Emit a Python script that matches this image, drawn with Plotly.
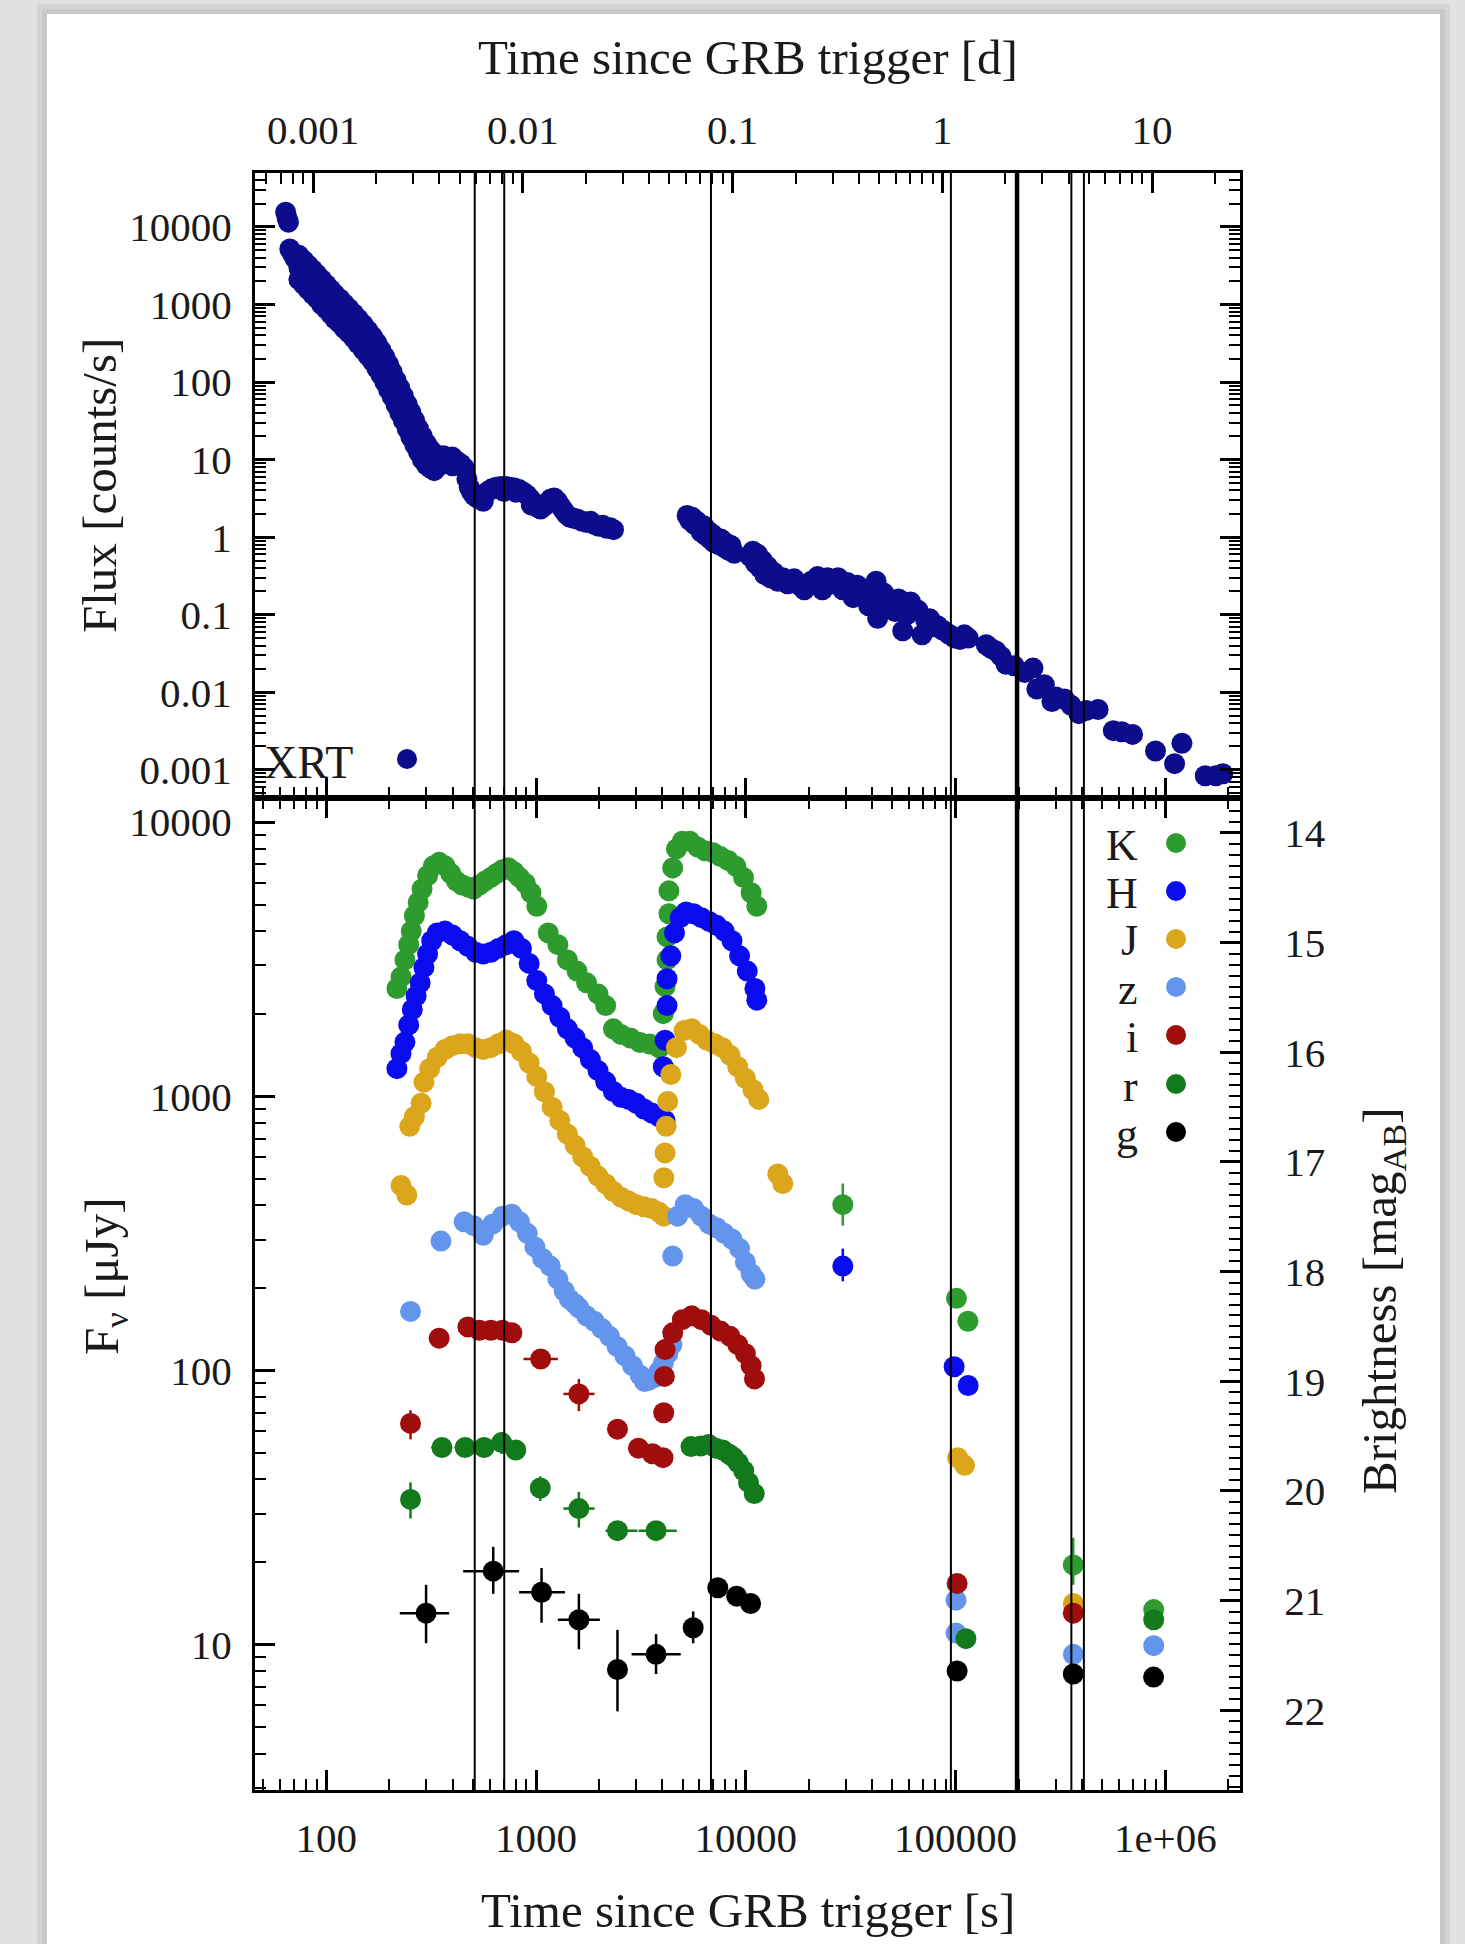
import math
import plotly.graph_objects as go

# ---------------- Swift/XRT light curve (counts/s) ----------------
xrt_time = [64, 65, 66, 67, 69, 71,
            74, 74, 74, 78, 78, 78, 82, 82, 82, 86, 86, 86, 90, 90, 90,
            95, 95, 95, 100, 100, 100, 105, 105, 105, 110, 110, 110,
            116, 116, 116, 122, 122, 122, 128, 128, 128, 135, 135, 135,
            142, 142, 142, 150, 150, 150, 158, 158, 158, 166, 166, 166,
            174, 174, 174, 182, 182, 182, 190, 190, 190, 198, 198, 198,
            206, 206, 206, 215, 215, 215, 224, 224, 224, 233, 233, 233,
            243, 243, 243, 253, 253, 253, 264, 264, 264, 275, 275, 275,
            287, 287, 287, 300, 300, 300, 313, 313, 313, 327, 327, 327,
            345, 350, 362, 380, 398, 400, 418, 438, 455,
            468, 480, 493, 508, 525, 545, 560, 565, 590, 615, 645, 680,
            700, 715, 750, 790, 800, 830, 870, 905, 940, 950, 975, 1010,
            1050, 1090, 1130, 1175, 1220, 1265, 1310, 1355, 1400, 1450,
            1510, 1580, 1660, 1740, 1820, 1900, 1990, 2080, 2170, 2260, 2340,
            5250, 5400, 5550, 5700, 5850, 6000, 6150, 6300, 6450, 6600,
            6750, 6900, 7050, 7200, 7400, 7600, 7800, 8000, 8250, 8500, 8800,
            10500, 10800, 11100, 11400, 11700, 12000, 12300, 12700, 13100,
            13600, 14200, 15000, 15800, 17000, 18000, 19000, 20500, 22000,
            23200, 24500, 26000, 27500, 29000, 30500, 32500, 34000, 35500,
            37000, 38500, 40000, 41800, 42500, 44000, 45500, 48000, 51500,
            53500, 56000, 58500, 61000, 63500, 66300, 69200, 72000, 75200,
            78500, 82000, 87000, 93000, 99000, 105000, 110000, 115000,
            140000, 147000, 156000, 165000, 174000, 190000, 214000, 234000,
            244000, 265000, 288000, 301000, 330000, 355000, 387000, 420000,
            478000, 565000, 620000, 698000, 898000, 1107000, 1200000,
            1550000, 1740000, 1880000]
xrt_flux = [15500, 13000, 11500, 5200, 4500, 3900,
            4300, 3000, 2100, 3700, 2600, 1800, 3200, 2250, 1550, 2800, 1950, 1350, 2450, 1700, 1200,
            2100, 1450, 1000, 1800, 1250, 870, 1550, 1080, 750, 1350, 940, 650,
            1180, 820, 570, 1020, 710, 490, 890, 620, 430, 760, 530, 370,
            650, 450, 310, 550, 380, 260, 460, 320, 220, 385, 265, 185,
            320, 220, 150, 260, 180, 125, 210, 145, 100, 170, 118, 80,
            135, 94, 65, 106, 74, 51, 84, 58, 40, 66, 46, 32,
            52, 36, 25, 41, 28, 19.5, 32, 22, 15.5, 25, 17.5, 12.5,
            20, 14, 10, 16, 11.5, 8.5, 13.5, 10, 7.8, 12, 9, 7.2,
            10.8, 8.5, 11.2, 10.2, 10.8, 8.3, 9.6, 8.8, 7.8,
            5.6, 4.4, 3.8, 3.4, 3.2, 3.3, 2.9, 3.6, 3.9, 4.2, 4.4, 4.5,
            3.9, 4.5, 4.4, 4.3, 3.8, 4.1, 3.8, 3.5, 3.1, 2.6, 2.7, 2.45,
            2.3, 2.5, 2.8, 3.1, 3.2, 2.9, 2.5, 2.2, 1.95, 1.8,
            1.75, 1.7, 1.6, 1.55, 1.6, 1.45, 1.38, 1.42, 1.3, 1.32, 1.25,
            1.9, 1.65, 1.8, 1.45, 1.6, 1.3, 1.15, 1.4, 1.05, 1.2,
            0.95, 1.1, 0.85, 1.0, 0.8, 0.95, 0.75, 0.85, 0.68, 0.78, 0.62,
            0.56, 0.66, 0.46, 0.6, 0.4, 0.5, 0.33, 0.42, 0.3,
            0.35, 0.27, 0.3, 0.25, 0.29, 0.24, 0.21, 0.27, 0.31,
            0.21, 0.3, 0.25, 0.3, 0.21, 0.26, 0.166, 0.24, 0.22,
            0.19, 0.13, 0.2, 0.27, 0.09, 0.16, 0.19, 0.13, 0.11,
            0.16, 0.062, 0.1, 0.146, 0.12, 0.114, 0.055, 0.085, 0.089,
            0.07, 0.072, 0.063, 0.056, 0.05, 0.048, 0.055, 0.05,
            0.041, 0.037, 0.034, 0.029, 0.023, 0.022, 0.018, 0.0205,
            0.011, 0.0125, 0.0076, 0.0087, 0.0082, 0.0068, 0.0053, 0.0058,
            0.006, 0.0032, 0.0031, 0.00286, 0.00175, 0.0012, 0.0022,
            0.00084, 0.00084, 0.00089]

# ---------------- GROND photometry (micro-Jansky) ----------------
K_time = [217, 227, 237, 247, 254, 263, 274, 286, 304, 324, 345, 368, 392, 417, 444,
          473, 504, 537, 571, 609, 648, 691, 736, 784, 834, 889, 946, 1008, 1143,
          1270, 1410, 1567, 1741, 1974, 2147, 2336, 2540, 2820, 3130, 3480, 3870,
          4120, 4040, 4120, 4210, 4210, 4300, 4300, 4480, 4670, 4980, 5410, 5890,
          6400, 6970, 7570, 8240, 8960, 9750, 10600, 11280, 101000, 114500, 880000]
K_flux = [2470, 2720, 3140, 3570, 4000, 4550, 5090, 5700, 6380, 6920, 7130, 6920, 6490, 6090, 5890,
          5800, 5700, 5890, 6090, 6280, 6490, 6700, 6810, 6590, 6280, 5980, 5520, 4930, 3940,
          3570, 3140, 2860, 2590, 2360, 2140, 1760, 1680, 1630, 1570, 1550, 1500,
          1550, 2000, 2510, 3140, 3810, 4630, 5610, 6800, 7980, 8510, 8510, 8110,
          7850, 7730, 7480, 7240, 6900, 6270, 5520, 4930, 183, 151, 13.4]
K_bar_time = [29000, 364000]
K_bar_flux = [402, 19.5]
K_bar_up = [78, 5]
K_bar_down = [65, 3]

H_time = [217, 227, 237, 247, 257, 268, 280, 292, 304, 318, 338, 368, 400, 435, 473, 515,
          560, 609, 662, 720, 784, 852, 927, 1008, 1096, 1192, 1297, 1410, 1534, 1668,
          1815, 1974, 2147, 2336, 2540, 2760, 3005, 3270, 3556, 3866, 4120, 4040, 4120,
          4210, 4210, 4390, 4570, 4870, 5190, 5640, 6140, 6680, 7260, 7890, 8590, 9340,
          10160, 11050, 11280, 98400, 114800]
H_flux = [1260, 1430, 1575, 1820, 2070, 2320, 2590, 2950, 3300, 3690, 3940, 4000, 3870, 3690, 3520, 3350,
          3300, 3350, 3460, 3570, 3690, 3460, 3050, 2640, 2360, 2140, 1940, 1760, 1630, 1500,
          1360, 1240, 1130, 1040, 990, 973, 942, 898, 869, 841, 815, 1280, 1600,
          2140, 2680, 3250, 3940, 4480, 4700, 4630, 4480, 4340, 4200, 4000, 3690, 3250,
          2860, 2470, 2240, 103, 88]
H_bar_time = [29000]
H_bar_flux = [240]
H_bar_up = [38]
H_bar_down = [29]

J_time = [242, 250, 263, 283, 292, 311, 338, 368, 400, 435, 473, 515, 560, 609, 662, 720,
          784, 852, 927, 1008, 1096, 1192, 1297, 1410, 1534, 1668, 1815, 1974, 2147, 2336,
          2540, 2760, 3005, 3270, 3556, 3866, 4064, 4064, 4120, 4170, 4240, 4390, 4670,
          5080, 5520, 6010, 6530, 7110, 7730, 8410, 9150, 9950, 10810, 11530, 14200,
          15000, 102300, 110400, 364000]
J_flux = [436, 776, 841, 942, 1125, 1260, 1387, 1480, 1528, 1553, 1553, 1503, 1480, 1503, 1553, 1603,
          1553, 1455, 1321, 1180, 1038, 912, 815, 728, 662, 601, 554, 511, 479, 449,
          428, 415, 402, 395, 389, 377, 365, 504, 621, 776, 957, 1200, 1503,
          1735, 1763, 1680, 1600, 1553, 1503, 1410, 1280, 1162, 1055, 973, 520,
          480, 48, 45, 14.1]
J_bar_time = [227]
J_bar_flux = [472]
J_bar_up = [40]
J_bar_down = [40]

z_time = [252, 352, 454, 504, 560, 622, 691, 767, 834, 908, 987, 1074, 1168, 1270, 1360,
          1440, 1530, 1600, 1741, 1893, 2060, 2240, 2437, 2650, 2880, 3135, 3290, 3450,
          3670, 3850, 4040, 4250, 4440, 4480, 4730, 5140, 5640, 6140, 6680, 7260, 7890,
          8590, 9340, 9950, 10600, 11050, 100500, 100500, 364000, 880000]
z_flux = [164, 296, 348, 337, 311, 342, 365, 371, 348, 316, 282, 256, 240, 215, 195,
          182, 175, 169, 158, 151, 142, 133, 122, 113, 104, 96, 91, 92,
          94, 99, 106, 115, 124, 261, 365, 402, 389, 365, 342, 331, 316,
          301, 278, 248, 225, 215, 14.5, 11.0, 9.2, 9.9]

i_time = [345, 473, 537, 609, 691, 767, 4060, 4090, 4120, 4480, 4980, 5520, 6140, 6820,
          7570, 8410, 9150, 9950, 10600, 11000, 101700, 364000]
i_flux = [131, 144, 140, 140, 140, 137, 70, 95, 119, 137, 153, 158, 153, 146,
          139, 133, 124, 115, 104, 93, 16.7, 13.0]
i_bar_time = [252, 1052, 1600, 2444, 3077, 3590, 4030]
i_bar_flux = [64, 110, 82, 61, 52, 49.6, 48]
i_bar_up = [7.5, 6, 11, 4, 3, 3, 3]
i_bar_down = [8, 6, 11, 4, 3, 3, 3]
i_bar_right = [0, 218, 300, 0, 0, 0, 0]
i_bar_left = [0, 181, 250, 0, 0, 0, 0]

r_time = [5480, 6100, 6650, 7200, 7760, 8300, 8720, 9200, 9770, 10300, 10970, 112000, 880000]
r_flux = [52.7, 53.0, 53.6, 52.0, 51.2, 49.5, 48.2, 46.0, 43.0, 39.0, 35.5, 10.5, 12.3]
r_bar_time = [252, 356, 459, 565, 685, 800, 1047, 1600, 2444, 3733]
r_bar_flux = [33.8, 52.3, 52.3, 52.3, 54.5, 51.2, 37.2, 31.3, 26.0, 26.0]
r_bar_up = [5.2, 4, 4, 4, 5, 4, 3.8, 4.7, 1.5, 1.5]
r_bar_down = [5, 4, 4, 4, 5, 4, 3.8, 4.6, 1.5, 1.5]
r_bar_right = [0, 40, 50, 40, 60, 60, 0, 300, 600, 950]
r_bar_left = [0, 40, 50, 40, 60, 60, 0, 250, 300, 650]

g_time = [7350, 9040, 10540, 101700, 364000, 879000]
g_flux = [16.1, 15.0, 14.1, 8.0, 7.8, 7.6]
g_bar_time = [299, 625, 1062, 1600, 2444, 3733, 5610]
g_bar_flux = [13.0, 18.5, 15.5, 12.3, 8.1, 9.2, 11.5]
g_bar_up = [3.5, 4.2, 3.5, 3.0, 3.2, 1.7, 1.7]
g_bar_down = [2.9, 3.2, 3.5, 2.7, 2.4, 1.4, 1.4]
g_bar_right = [86, 205, 312, 414, 0, 1160, 0]
g_bar_left = [75, 176, 232, 330, 0, 880, 0]

# epochs marked across both panels (s); the fifth one is drawn heavier
epoch_time = [510, 705, 6820, 95000, 196400, 356500, 409000]
epoch_width = [2, 2, 2, 2, 4.5, 2, 2]

band_names = ["K", "H", "J", "z", "i", "r", "g"]
band_colors = {"K": "#2e9b2e", "H": "#0b0bf0", "J": "#dba51c", "z": "#6495ed",
               "i": "#a00d0d", "r": "#137a1c", "g": "#000000"}
XRT_COLOR = "#0c0c8c"

# ---------------- axes geometry ----------------
SEC_PER_DAY = 86400.0
T_RANGE = [1.66, 6.356]                      # log10 seconds
D_RANGE = [v - math.log10(SEC_PER_DAY) for v in T_RANGE]
FNU_RANGE = [0.469, 4.086]                   # log10 microJy
XRT_RANGE = [-3.369, 4.695]                  # log10 counts/s
AB_ZP = 23.9                                 # AB mag of 1 microJy
MAG_RANGE = [AB_ZP - 2.5 * FNU_RANGE[0], AB_ZP - 2.5 * FNU_RANGE[1]]
SPLIT = 0.6132

sec_ticks = [100, 1000, 10000, 100000, 1000000]
sec_labels = ["100", "1000", "10000", "100000", "1e+06"]
day_ticks = [0.001, 0.01, 0.1, 1, 10]
day_labels = ["0.001", "0.01", "0.1", "1", "10"]
xrt_ticks = [0.001, 0.01, 0.1, 1, 10, 100, 1000, 10000]
xrt_labels = ["0.001", "0.01", "0.1", "1", "10", "100", "1000", "10000"]
fnu_ticks = [10, 100, 1000, 10000]
fnu_labels = ["10", "100", "1000", "10000"]
mag_ticks = list(range(14, 23))


def log_minor(lo_exp, hi_exp, rng):
    lo, hi = 10 ** rng[0], 10 ** rng[1]
    return [m * 10.0 ** e for e in range(lo_exp, hi_exp + 1) for m in range(2, 10)
            if lo <= m * 10.0 ** e <= hi]


mag_minor = [round(13.7 + 0.1 * k, 1) for k in range(0, 91)]
mag_minor = [m for m in mag_minor if abs(m - round(m)) > 1e-6]

FONT = "Liberation Serif"
TEXT = "#1a1a1a"
tick_font = dict(family=FONT, size=41, color=TEXT)
title_font = dict(family=FONT, size=49, color=TEXT)
MARK = 21

fig = go.Figure()

fig.add_trace(go.Scatter(x=xrt_time, y=xrt_flux, xaxis="x2", yaxis="y2", mode="markers",
                         marker=dict(size=MARK, color=XRT_COLOR, line=dict(width=0)), name="XRT"))

bands = {
    "K": (K_time, K_flux, dict(t=K_bar_time, f=K_bar_flux, up=K_bar_up, dn=K_bar_down)),
    "H": (H_time, H_flux, dict(t=H_bar_time, f=H_bar_flux, up=H_bar_up, dn=H_bar_down)),
    "J": (J_time, J_flux, dict(t=J_bar_time, f=J_bar_flux, up=J_bar_up, dn=J_bar_down)),
    "z": (z_time, z_flux, None),
    "i": (i_time, i_flux, dict(t=i_bar_time, f=i_bar_flux, up=i_bar_up, dn=i_bar_down,
                               rt=i_bar_right, lt=i_bar_left)),
    "r": (r_time, r_flux, dict(t=r_bar_time, f=r_bar_flux, up=r_bar_up, dn=r_bar_down,
                               rt=r_bar_right, lt=r_bar_left)),
    "g": (g_time, g_flux, dict(t=g_bar_time, f=g_bar_flux, up=g_bar_up, dn=g_bar_down,
                               rt=g_bar_right, lt=g_bar_left)),
}

for name in band_names:
    t, f, bars = bands[name]
    col = band_colors[name]
    mk = dict(size=MARK, color=col, line=dict(width=0))
    if bars is not None:
        ey = dict(type="data", symmetric=False, array=bars["up"], arrayminus=bars["dn"],
                  color=col, thickness=2.5, width=0)
        ex = None
        if "rt" in bars:
            ex = dict(type="data", symmetric=False, array=bars["rt"], arrayminus=bars["lt"],
                      color=col, thickness=2.5, width=0)
        fig.add_trace(go.Scatter(x=bars["t"], y=bars["f"], xaxis="x", yaxis="y", mode="markers",
                                 marker=mk, error_y=ey, error_x=ex, name=name))
    fig.add_trace(go.Scatter(x=t, y=f, xaxis="x", yaxis="y", mode="markers", marker=mk, name=name))

# empty traces that register the day axis and the magnitude axis
fig.add_trace(go.Scatter(x=[], y=[], xaxis="x3", yaxis="y2", mode="markers"))
fig.add_trace(go.Scatter(x=[], y=[], xaxis="x", yaxis="y3", mode="markers"))

base = dict(showline=True, linewidth=3, linecolor="black", ticks="inside", ticklen=20,
            tickwidth=3, tickcolor="black", showgrid=False, zeroline=False, tickfont=tick_font)
minor_style = dict(ticks="inside", ticklen=11, tickwidth=2, tickcolor="black", showgrid=False)

PLOT_L, PLOT_R, PLOT_T, PLOT_B = 255, 1240, 173, 1790
W, H = 1465, 1944


def px_x(p):
    return (p - PLOT_L) / (PLOT_R - PLOT_L)


def px_y(p):
    return (PLOT_B - p) / (PLOT_B - PLOT_T)


fig.update_layout(
    width=W, height=H,
    margin=dict(l=PLOT_L, r=W - PLOT_R, t=PLOT_T, b=H - PLOT_B, autoexpand=False),
    paper_bgcolor="#e2e2e2", plot_bgcolor="white", showlegend=False,
    xaxis=dict(**base, type="log", range=T_RANGE, domain=[0, 1], anchor="y",
               tickmode="array", tickvals=sec_ticks, ticktext=sec_labels,
               minor=dict(**minor_style, tickmode="array", tickvals=log_minor(1, 6, T_RANGE)),
               mirror="ticks", ticklabelstandoff=10),
    xaxis2=dict(**base, type="log", range=T_RANGE, domain=[0, 1], anchor="y2",
                showticklabels=False, tickmode="array", tickvals=sec_ticks,
                minor=dict(**minor_style, tickmode="array", tickvals=log_minor(1, 6, T_RANGE)),
                mirror=True),
    xaxis3=dict(**base, type="log", range=D_RANGE, overlaying="x2", side="top", anchor="y2",
                tickmode="array", tickvals=day_ticks, ticktext=day_labels,
                minor=dict(**minor_style, tickmode="array", tickvals=log_minor(-4, 1, D_RANGE)),
                ticklabelstandoff=10),
    yaxis=dict(**base, type="log", range=FNU_RANGE, domain=[0, SPLIT], anchor="x",
               tickmode="array", tickvals=fnu_ticks, ticktext=fnu_labels,
               minor=dict(**minor_style, tickmode="array", tickvals=log_minor(0, 4, FNU_RANGE)),
               ticklabelstandoff=12),
    yaxis2=dict(**base, type="log", range=XRT_RANGE, domain=[SPLIT, 1], anchor="x2",
                tickmode="array", tickvals=xrt_ticks, ticktext=xrt_labels,
                minor=dict(**minor_style, tickmode="array", tickvals=log_minor(-4, 4, XRT_RANGE)),
                mirror="ticks", ticklabelstandoff=12),
    yaxis3=dict(**base, range=MAG_RANGE, overlaying="y", side="right", anchor="x",
                tickmode="array", tickvals=mag_ticks, ticktext=[str(m) for m in mag_ticks],
                minor=dict(**minor_style, tickmode="array", tickvals=mag_minor),
                ticklabelstandoff=33),
)

shapes = []
# page card with a soft shadow
for pad, col in [(10, "#d4d4d4"), (5, "#c8c8c8")]:
    shapes.append(dict(type="rect", xref="paper", yref="paper", layer="below",
                       x0=px_x(47 - pad), x1=px_x(1440 + pad), y0=px_y(H + 20), y1=px_y(14 - pad),
                       fillcolor=col, line=dict(width=0)))
shapes.append(dict(type="rect", xref="paper", yref="paper", layer="below",
                   x0=px_x(47), x1=px_x(1440), y0=px_y(H + 20), y1=px_y(14),
                   fillcolor="white", line=dict(width=0)))

# epoch markers spanning both panels
for t, w in zip(epoch_time, epoch_width):
    shapes.append(dict(type="line", xref="x", yref="paper", x0=t, x1=t, y0=0, y1=1,
                       layer="above", line=dict(color="black", width=w)))

annotations = [
    dict(text="Time since GRB trigger [d]", x=0.5, y=px_y(58)),
    dict(text="Time since GRB trigger [s]", x=0.5, y=px_y(1910)),
    dict(text="Flux [counts/s]", x=px_x(99), y=px_y(486), textangle=-90),
    dict(text="F<sub>ν</sub> [μJy]", x=px_x(104), y=px_y(1276), textangle=-90),
    dict(text="Brightness [mag<sub>AB</sub>]", x=px_x(1382), y=px_y(1301), textangle=-90),
]
for a in annotations:
    a.update(xref="paper", yref="paper", showarrow=False, xanchor="center", yanchor="middle",
             font=title_font)

# legend: labels to the left of the dots
DOT = 20
legend_rows = [843, 891, 939, 987, 1035, 1084, 1132]
for name, yrow in zip(band_names, legend_rows):
    annotations.append(dict(text=name, xref="paper", yref="paper", x=px_x(1140), y=px_y(yrow + 2),
                            xanchor="right", yanchor="middle", showarrow=False,
                            font=dict(family=FONT, size=44, color=TEXT)))
    shapes.append(dict(type="circle", xref="paper", yref="paper", layer="above",
                       x0=px_x(1176 - DOT / 2), x1=px_x(1176 + DOT / 2),
                       y0=px_y(yrow + DOT / 2), y1=px_y(yrow - DOT / 2),
                       fillcolor=band_colors[name], line=dict(width=0)))

annotations.append(dict(text="XRT", xref="paper", yref="paper", x=px_x(262), y=px_y(762),
                        xanchor="left", yanchor="middle", showarrow=False,
                        font=dict(family=FONT, size=46, color=TEXT)))
shapes.append(dict(type="circle", xref="paper", yref="paper", layer="above",
                   x0=px_x(407 - DOT / 2), x1=px_x(407 + DOT / 2),
                   y0=px_y(759 + DOT / 2), y1=px_y(759 - DOT / 2),
                   fillcolor=XRT_COLOR, line=dict(width=0)))

fig.update_layout(shapes=shapes, annotations=annotations)

fig.write_html("out.html")
